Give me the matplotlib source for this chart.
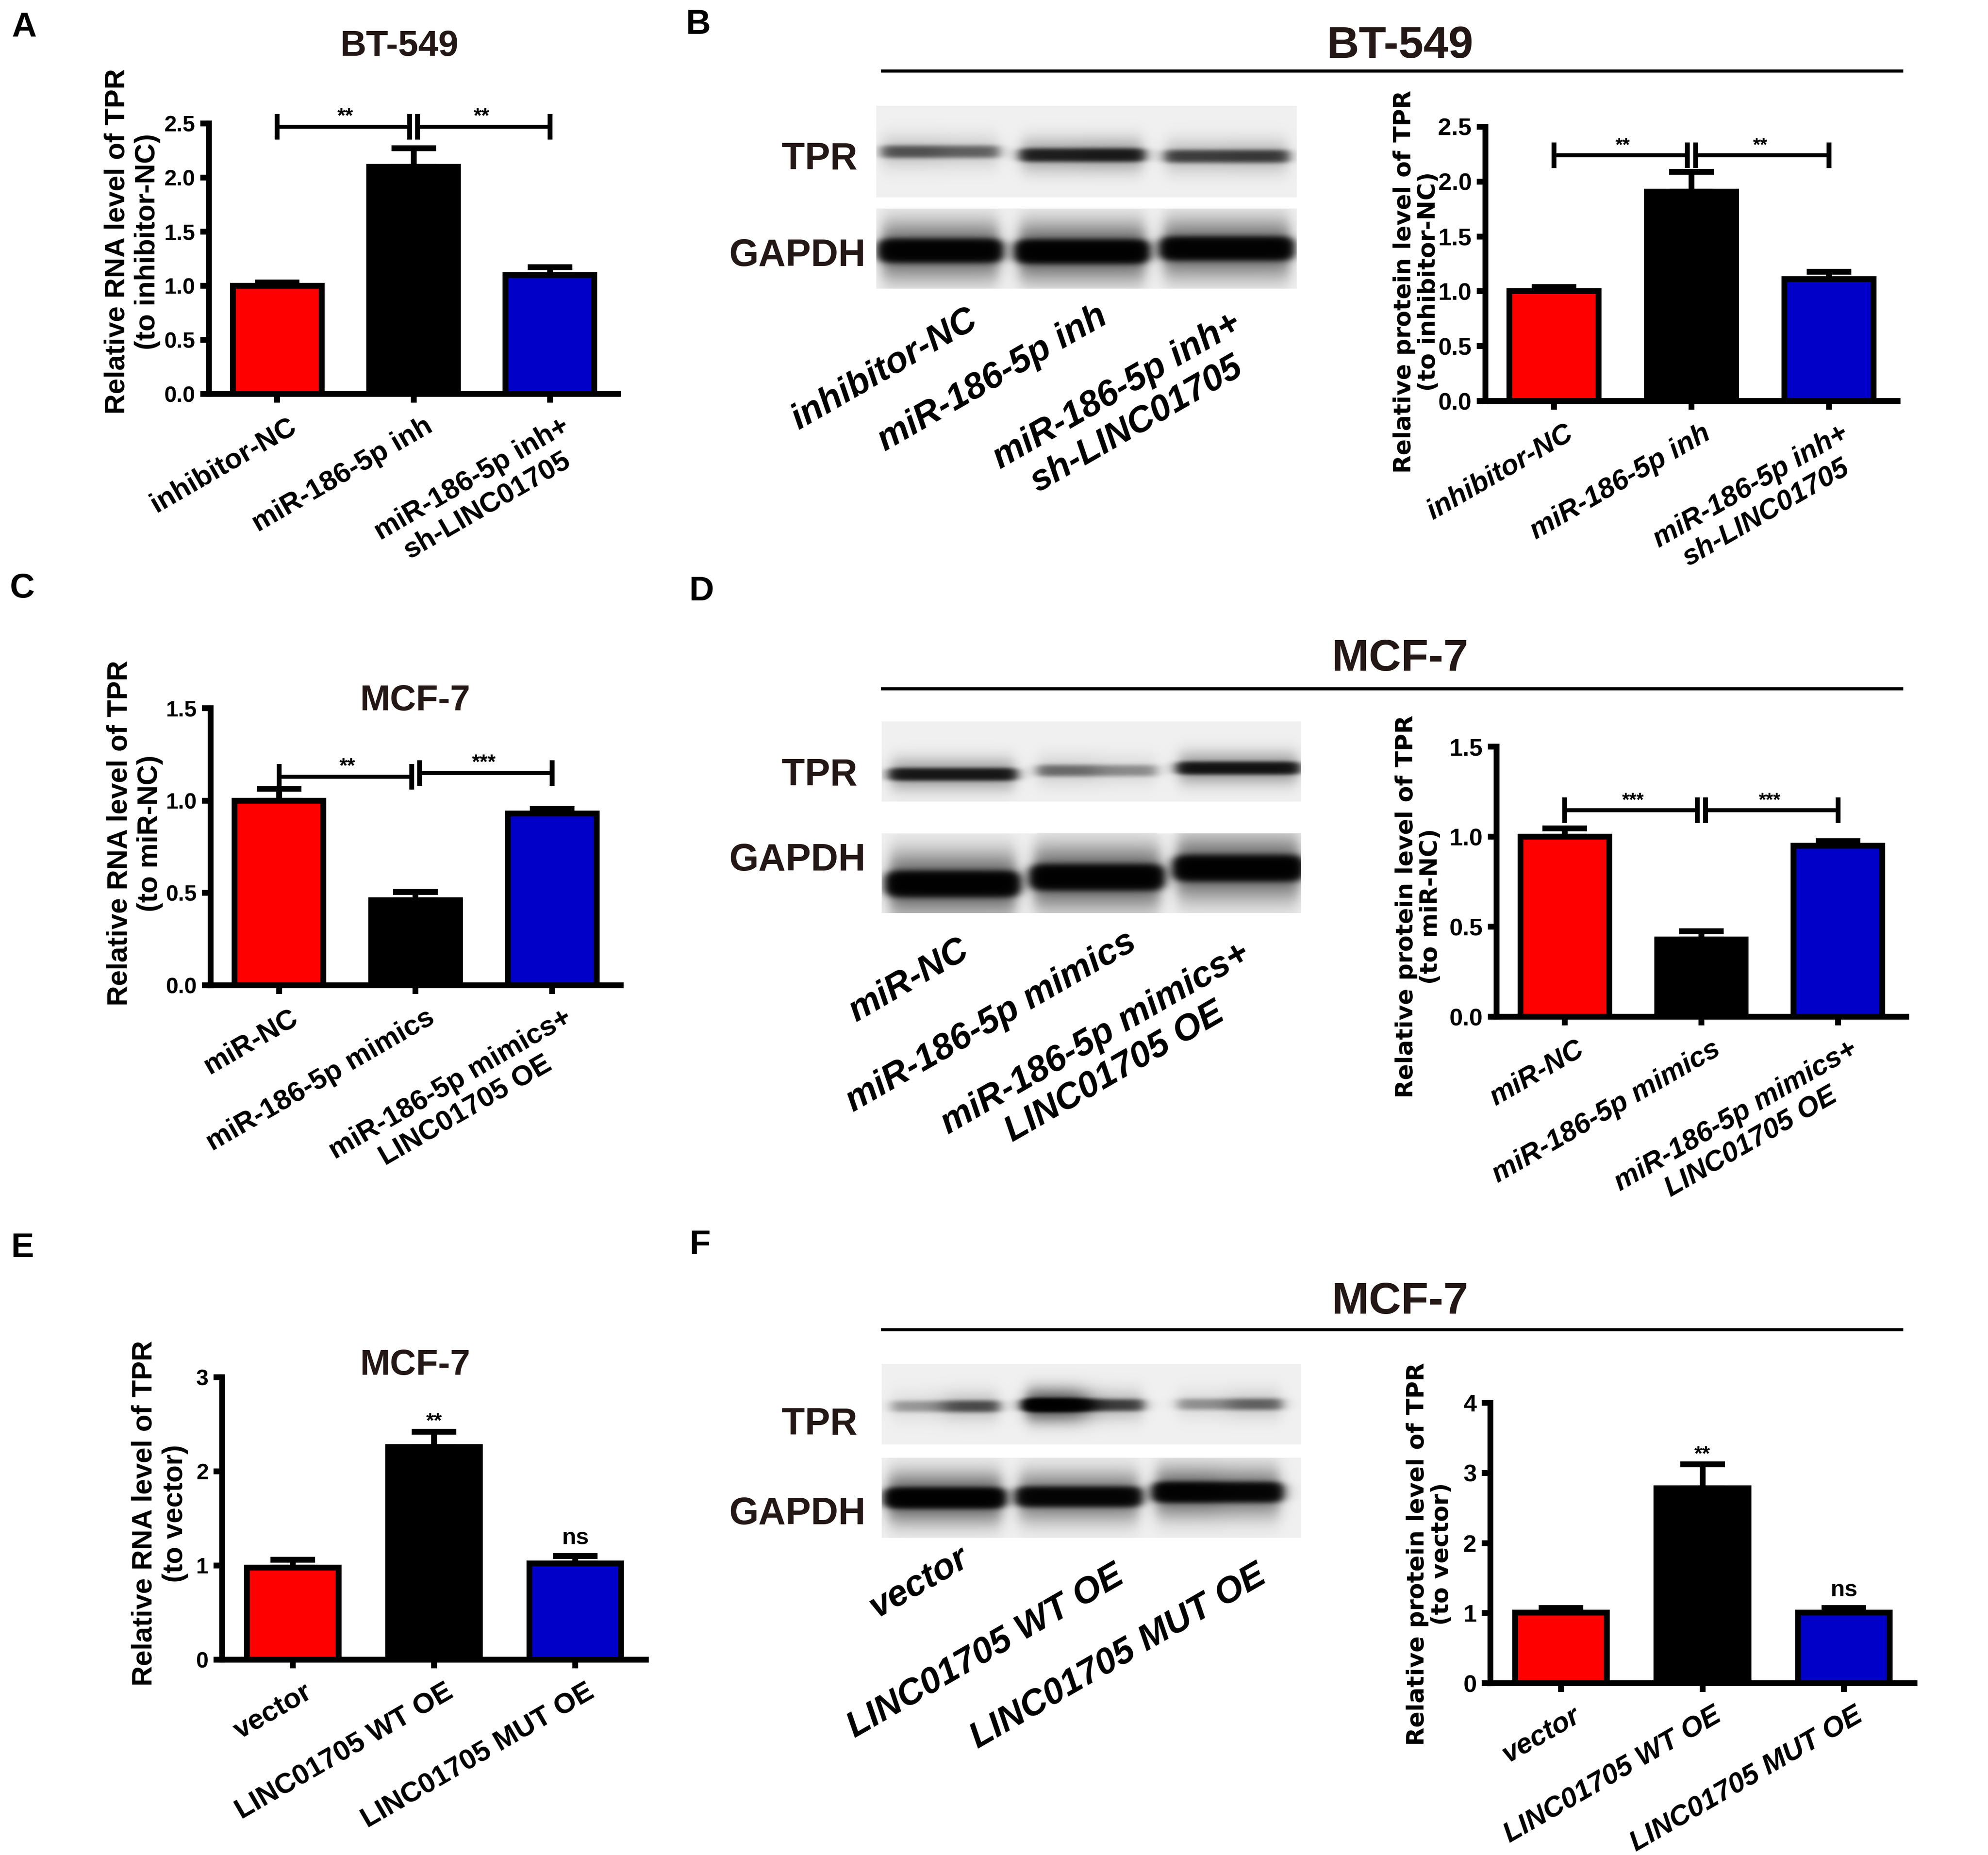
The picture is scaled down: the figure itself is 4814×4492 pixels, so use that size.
import numpy as np
import matplotlib
matplotlib.use('Agg')
import matplotlib.pyplot as plt
import matplotlib.transforms as mtransforms
from matplotlib.lines import Line2D

plt.rcParams['font.family'] = ['Liberation Sans', 'DejaVu Sans']
plt.rcParams['font.weight'] = 'bold'

# ---------------- data ----------------
labels_A = ['inhibitor-NC', 'miR-186-5p inh', 'miR-186-5p inh+\nsh-LINC01705']
labels_C = ['miR-NC', 'miR-186-5p mimics', 'miR-186-5p mimics+\nLINC01705 OE']
labels_E = ['vector', 'LINC01705 WT OE', 'LINC01705 MUT OE']

means_A = [1.00, 2.10, 1.10]
err_A = [0.03, 0.17, 0.07]
means_B = [1.00, 1.91, 1.11]
err_B = [0.04, 0.18, 0.07]
means_C = [1.00, 0.46, 0.93]
err_C = [0.065, 0.045, 0.025]
means_D = [1.00, 0.43, 0.95]
err_D = [0.045, 0.045, 0.025]
means_E = [0.98, 2.26, 1.02]
err_E = [0.08, 0.16, 0.08]
means_F = [1.01, 2.78, 1.01]
err_F = [0.06, 0.34, 0.06]

# significance: (group a, group b, bracket height, stars)
sig_A = [(0, 1, 2.47, '**'), (1, 2, 2.47, '**')]
sig_B = [(0, 1, 2.24, '**'), (1, 2, 2.24, '**')]
sig_C = [(0, 1, 1.13, '**'), (1, 2, 1.15, '***')]
sig_D = [(0, 1, 1.147, '***'), (1, 2, 1.147, '***')]
marks_E = ['', '**', 'ns']
marks_F = ['', '**', 'ns']

ylab_A = 'Relative RNA level of TPR\n(to inhibitor-NC)'
ylab_B = 'Relative protein level of TPR\n(to inhibitor-NC)'
ylab_C = 'Relative RNA level of TPR\n(to miR-NC)'
ylab_D = 'Relative protein level of TPR\n(to miR-NC)'
ylab_E = 'Relative RNA level of TPR\n(to vector)'
ylab_F = 'Relative protein level of TPR\n(to vector)'

# western blot band darkness per lane (left half, right half of band)
tpr_B = [(0.60, 0.50), (1.15, 1.25), (0.75, 0.80)]
gapdh_B = [(2.6, 2.6), (2.8, 2.8), (2.6, 2.6)]
tpr_D = [(1.30, 1.30), (0.45, 0.30), (1.40, 1.40)]
gapdh_D = [(2.8, 2.8), (2.8, 2.8), (2.8, 2.8)]
tpr_F = [(0.25, 0.65), (3.20, 0.75), (0.28, 0.50)]
gapdh_F = [(2.8, 2.8), (2.2, 2.2), (2.6, 2.2)]

bar_colors = ['#ff0000', '#000000', '#0000c8']

# ---------------- layout (pixels of the 4814 x 4492 canvas) ----------------
W, H = 4814, 4492
fig = plt.figure(figsize=(W / 300, H / 300), dpi=300)


def fx(px):
    return px / W


def fy(py):
    return 1 - py / H


def box(l, t, r, b):
    return [l / W, 1 - b / H, (r - l) / W, (b - t) / H]


LW = 3.4
narrow = ['Liberation Sans Narrow', 'DejaVu Sans Condensed', 'Liberation Sans']


def bar_panel(ax, labels, means, errs, ymax, step, fmt, ylab, ylab_xy,
              right=False):
    x = np.arange(len(means))
    ax.bar(x, means, width=0.65, color=bar_colors, edgecolor='black',
           linewidth=LW, zorder=3)
    eb = ax.errorbar(x, means, yerr=[np.zeros(len(errs)), errs], fmt='none',
                     ecolor='black', elinewidth=LW, capsize=13, capthick=LW,
                     zorder=2)
    for art in eb.lines[1] + eb.lines[2]:
        art.set_clip_on(False)
    ax.set_xlim(-0.5, 2.5)
    ax.set_ylim(0, ymax)
    for s in ['top', 'right']:
        ax.spines[s].set_visible(False)
    for s in ['left', 'bottom']:
        ax.spines[s].set_linewidth(LW)
    yt = np.arange(0, ymax + 1e-9, step)
    ax.set_yticks(yt, [fmt.format(v) for v in yt])
    ax.tick_params(direction='out', length=5, width=LW, pad=3)
    ax.tick_params(axis='x', pad=6)
    for lab in ax.get_yticklabels():
        lab.set_fontsize(14 if right else 13)
        lab.set_fontweight('bold')
        if right:
            lab.set_family(narrow)
    ax.set_xticks(x, labels, rotation=30, ha='right', va='top',
                  rotation_mode='anchor', multialignment='center',
                  fontsize=16.5, fontweight='bold',
                  fontstyle='italic' if right else 'normal')
    off = mtransforms.ScaledTranslation(6 / 72, 0, fig.dpi_scale_trans)
    for lab in ax.get_xticklabels():
        lab.set_transform(lab.get_transform() + off)
    if right:
        ax.set_ylabel(ylab, fontsize=13.8, fontweight='bold',
                      family=['DejaVu Sans'], linespacing=1.1,
                      multialignment='center')
    else:
        ax.set_ylabel(ylab, fontsize=16.4, fontweight='bold',
                      linespacing=1.2, multialignment='center')
    ax.yaxis.set_label_coords(fx(ylab_xy[0]), fy(ylab_xy[1]),
                              transform=fig.transFigure)
    ax.yaxis.label.set_verticalalignment('center')


def brackets(ax, sigs, fs=12):
    for a, b, y, txt in sigs:
        x0 = a + (0.03 if a == 1 else 0)
        x1 = b - (0.03 if b == 1 else 0)
        ax.plot([x0, x1], [y, y], color='black', lw=2.3, clip_on=False,
                zorder=4)
        ax.plot([x0, x1], [y, y], ls='none', marker='|', ms=15, mew=2.8,
                color='black', clip_on=False, zorder=4)
        ax.annotate(txt, xy=((a + b) / 2, y), xytext=(0, 2.5),
                    textcoords='offset points', ha='center', va='baseline',
                    fontsize=fs, fontweight='bold')


def marks(ax, means, errs, texts):
    for i, t in enumerate(texts):
        if not t:
            continue
        top = means[i] + errs[i]
        if t == 'ns':
            ax.annotate(t, xy=(i, top), xytext=(0, 7), textcoords='offset points',
                        ha='center', va='baseline', fontsize=13.5,
                        fontweight='bold')
        else:
            ax.annotate(t, xy=(i, top), xytext=(0, 2.5),
                        textcoords='offset points', ha='center',
                        va='baseline', fontsize=12, fontweight='bold')


def blot_image(w, h, centers, widths, ycs, half, dark, bg=0.94):
    xx = np.arange(w)[None, :]
    yy = np.arange(h)[:, None]
    dens = np.zeros((h, w))
    for c, bw, yc, (dl, dr) in zip(centers, widths, ycs, dark):
        x0, x1 = c - bw / 2, c + bw / 2
        hx = 1 / (1 + np.exp(-(xx - x0) / 9)) / (1 + np.exp((xx - x1) / 9))
        # left half / right half of the band, blended in the middle
        mix = 1 / (1 + np.exp(-(xx - c) / (bw * 0.06)))
        strength = dl + (dr - dl) * mix
        core = np.exp(-np.abs((yy - yc) / half) ** 3)
        halo = 0.22 * np.exp(-((yy - yc) / (half * 2.6)) ** 2)
        dens = dens + hx * strength * (core + halo)
    return bg * np.exp(-1.5 * dens)


def blot(rect, centers, widths, ycs, half, dark):
    l, t, r, b = rect
    img = blot_image(r - l, b - t, centers, widths, ycs, half, dark)
    axb = fig.add_axes(box(l, t, r, b))
    axb.imshow(img, cmap='gray', vmin=0, vmax=1, aspect='auto',
               interpolation='bilinear')
    axb.axis('off')


def blot_labels(texts, anchors):
    for t, (px, py) in zip(texts, anchors):
        fig.text(fx(px), fy(py), t, rotation=30, rotation_mode='anchor',
                 ha='right', va='top', multialignment='center', fontsize=21,
                 fontweight='bold', fontstyle='italic')


def header(title, y_title, y_line):
    fig.text(fx(3390), fy(y_title), title, ha='center', va='center',
             fontsize=26, fontweight='bold', color='#231815')
    fig.add_artist(Line2D([fx(2137), fx(4605)], [fy(y_line), fy(y_line)],
                          color='black', lw=1.8))


# panel letters
for letter, (px, py) in zip('ABCDEF', [(59, 67), (1690, 60), (54, 1425),
                                       (1699, 1432), (54, 3022), (1695, 3015)]):
    fig.text(fx(px), fy(py), letter, ha='center', va='center', fontsize=20,
             fontweight='bold')

# ---------------- A ----------------
axA = fig.add_axes(box(506, 299, 1497, 954))
bar_panel(axA, labels_A, means_A, err_A, 2.5, 0.5, '{:.1f}', ylab_A, (320, 585))
brackets(axA, sig_A)
fig.text(fx(967), fy(112), 'BT-549', ha='center', va='center', fontsize=21,
         fontweight='bold', color='#231815')

# ---------------- B ----------------
header('BT-549', 112, 172)
blot((2122, 256, 3140, 478), [155, 498, 848], [277, 289, 291], [111, 119, 122],
     15, tpr_B)
blot((2122, 505, 3140, 699), [155, 498, 848], [277, 300, 300], [102, 104, 97],
     24, gapdh_B)
fig.text(fx(2076), fy(385), 'TPR', ha='right', va='center', fontsize=22,
         fontweight='bold', color='#231815')
fig.text(fx(2096), fy(620), 'GAPDH', ha='right', va='center', fontsize=22,
         fontweight='bold', color='#231815')
blot_labels(labels_A, [(2340, 734), (2654, 725), (2978, 743)])
axB = fig.add_axes(box(3597, 307, 4595, 971))
bar_panel(axB, labels_A, means_B, err_B, 2.5, 0.5, '{:.1f}', ylab_B, (3430, 682),
          right=True)
brackets(axB, sig_B, fs=11)

# ---------------- C ----------------
axC = fig.add_axes(box(510, 1715, 1503, 2386))
bar_panel(axC, labels_C, means_C, err_C, 1.5, 0.5, '{:.1f}', ylab_C, (326, 2018))
brackets(axC, sig_C)
fig.text(fx(1005), fy(1698), 'MCF-7', ha='center', va='center', fontsize=21,
         fontweight='bold', color='#231815')

# ---------------- D ----------------
header('MCF-7', 1596, 1668)
blot((2135, 1747, 3150, 1941), [172, 521, 863], [295, 284, 283], [128, 119, 113],
     14, tpr_D)
blot((2135, 2018, 3150, 2211), [172, 521, 863], [300, 300, 290], [122, 106, 84],
     26, gapdh_D)
fig.text(fx(2076), fy(1878), 'TPR', ha='right', va='center', fontsize=22,
         fontweight='bold', color='#231815')
fig.text(fx(2096), fy(2084), 'GAPDH', ha='right', va='center', fontsize=22,
         fontweight='bold', color='#231815')
blot_labels(labels_C, [(2319, 2260), (2725, 2240), (2999, 2269)])
axD = fig.add_axes(box(3624, 1808, 4616, 2462))
bar_panel(axD, labels_C, means_D, err_D, 1.5, 0.5, '{:.1f}', ylab_D, (3435, 2195),
          right=True)
brackets(axD, sig_D, fs=11)

# ---------------- E ----------------
axE = fig.add_axes(box(538, 3335, 1564, 4019))
bar_panel(axE, labels_E, means_E, err_E, 3, 1, '{:.0f}', ylab_E, (387, 3665))
marks(axE, means_E, err_E, marks_E)
fig.text(fx(1005), fy(3306), 'MCF-7', ha='center', va='center', fontsize=21,
         fontweight='bold', color='#231815')

# ---------------- F ----------------
header('MCF-7', 3153, 3220)
blot((2135, 3303, 3150, 3498), [153, 491, 842], [255, 277, 247], [102, 99, 97],
     14, tpr_F)
blot((2135, 3530, 3150, 3724), [153, 477, 814], [269, 284, 294], [97, 94, 83],
     21, gapdh_F)
fig.text(fx(2076), fy(3449), 'TPR', ha='right', va='center', fontsize=22,
         fontweight='bold', color='#231815')
fig.text(fx(2096), fy(3667), 'GAPDH', ha='right', va='center', fontsize=22,
         fontweight='bold', color='#231815')
blot_labels(labels_E, [(2319, 3732), (2695, 3775), (3039, 3775)])
axF = fig.add_axes(box(3609, 3397, 4636, 4076))
bar_panel(axF, labels_E, means_F, err_F, 4, 1, '{:.0f}', ylab_F, (3462, 3763),
          right=True)
marks(axF, means_F, err_F, marks_F)

fig.savefig('out.png', dpi=300, facecolor='white')
